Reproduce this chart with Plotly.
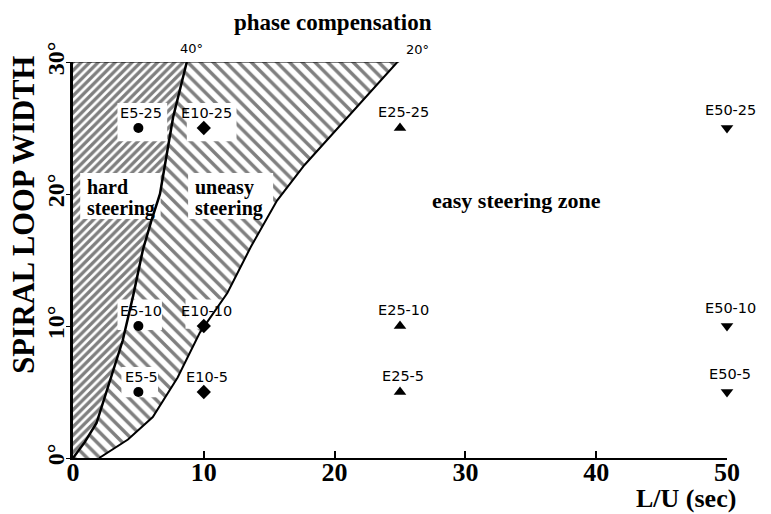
import plotly.graph_objects as go

# ---- data ----
curve40_x = [0.0, 0.9, 1.8, 2.8, 3.8, 4.6, 5.35, 6.0, 6.65, 7.65, 8.7]
curve40_y = [0.0, 1.2, 2.65, 5.7, 8.9, 12.3, 15.8, 18.0, 20.0, 25.8, 30.0]
curve20_x = [2.0, 4.2, 6.1, 8.0, 9.7, 11.8, 13.6, 15.6, 17.7, 19.9, 22.3, 24.8, 25.2]
curve20_y = [0.0, 1.4, 3.1, 6.1, 9.5, 12.5, 16.0, 19.5, 22.2, 24.6, 27.3, 30.0, 30.2]

circle_x = [5, 5, 5]
circle_y = [25, 10, 5]
circle_lbl = ["E5-25", "E5-10", "E5-5"]
diamond_x = [10, 10, 10]
diamond_y = [25, 10, 5]
diamond_lbl = ["E10-25", "E10-10", "E10-5"]
tri_up_x = [25, 25, 25]
tri_up_y = [25, 10, 5]
tri_up_lbl = ["E25-25", "E25-10", "E25-5"]
tri_dn_x = [50, 50, 50]
tri_dn_y = [25, 10, 5]
tri_dn_lbl = ["E50-25", "E50-10", "E50-5"]

x_ticks = [0, 10, 20, 30, 40, 50]
y_ticks = [0, 10, 20, 30]
y_ticktext = ["0°", "10°", "20°", "30°"]

SERIF = "Liberation Serif"
SANS = "DejaVu Sans"

fig = go.Figure()

# dense hatched region (hard steering): left of the 40° curve
dense_x = [0] + curve40_x + [0]
dense_y = [0] + curve40_y + [30]
fig.add_trace(go.Scatter(
    x=dense_x, y=dense_y, mode="lines", fill="toself",
    fillcolor="white", line=dict(color="black", width=0.1),
    fillpattern=dict(shape="/", size=6, solidity=0.55, fgcolor="black", bgcolor="white"),
    hoverinfo="skip", showlegend=False))

# lighter hatched region (uneasy steering): between 40° and 20° curves
light_x = curve40_x + [curve20_x[-2]] + curve20_x[-2::-1]
light_y = curve40_y + [curve20_y[-2]] + curve20_y[-2::-1]
fig.add_trace(go.Scatter(
    x=light_x, y=light_y, mode="lines", fill="toself",
    fillcolor="white", line=dict(color="black", width=0.1),
    fillpattern=dict(shape="\\", size=9, solidity=0.38, fgcolor="black", bgcolor="white"),
    hoverinfo="skip", showlegend=False))

# white label boxes cut into the hatching
boxes = [(3.4, 7.2, 24.0, 26.9), (8.7, 12.5, 24.0, 26.9),
         (3.4, 6.8, 9.7, 12.0), (3.7, 6.5, 4.6, 6.9), (8.6, 11.6, 9.8, 12.0),
         (0.55, 6.7, 18.1, 21.6), (8.8, 15.3, 18.1, 21.6)]
bx, by = [], []
for x0, x1, y0, y1 in boxes:
    bx += [x0, x1, x1, x0, x0, None]
    by += [y0, y0, y1, y1, y0, None]
fig.add_trace(go.Scatter(x=bx, y=by, mode="lines", fill="toself",
                         fillcolor="white", line=dict(width=0, color="white"),
                         hoverinfo="skip", showlegend=False))

# boundary lines
fig.add_trace(go.Scatter(x=curve40_x, y=curve40_y, mode="lines",
                         line=dict(color="black", width=2.5), showlegend=False, cliponaxis=False))
fig.add_trace(go.Scatter(x=curve20_x, y=curve20_y, mode="lines",
                         line=dict(color="black", width=2), showlegend=False, cliponaxis=False))
fig.add_trace(go.Scatter(x=[0, curve20_x[-2]], y=[30, 30], mode="lines",
                         line=dict(color="black", width=1.2), showlegend=False, cliponaxis=False))

# markers
for xs, ys, sym, sz in [(circle_x, circle_y, "circle", 10),
                        (diamond_x, diamond_y, "diamond", 11),
                        (tri_up_x, tri_up_y, "triangle-up", 11),
                        (tri_dn_x, tri_dn_y, "triangle-down", 11)]:
    fig.add_trace(go.Scatter(x=xs, y=ys, mode="markers",
                             marker=dict(symbol=sym, size=sz, color="black"),
                             cliponaxis=False, showlegend=False))

annotations = []
for xs, ys, lbls, dy in [(circle_x, circle_y, circle_lbl, 15), (diamond_x, diamond_y, diamond_lbl, 15),
                         (tri_up_x, tri_up_y, tri_up_lbl, 16), (tri_dn_x, tri_dn_y, tri_dn_lbl, 18)]:
    for x, y, t in zip(xs, ys, lbls):
        annotations.append(dict(x=x, y=y, text=t, showarrow=False, yshift=dy, xshift=3,
                                font=dict(family=SANS, size=14.5, color="black")))

bold19 = dict(family=SERIF, size=20, color="black", weight="bold")
annotations += [
    dict(x=curve40_x[-1], y=30, text="40°", showarrow=False, yshift=14, xshift=5,
         font=dict(family=SANS, size=13, color="black")),
    dict(x=curve20_x[-1], y=30, text="20°", showarrow=False, yshift=13, xshift=15,
         font=dict(family=SANS, size=13, color="black")),
    dict(x=0.9, y=20.5, text="hard", showarrow=False, xanchor="left", yanchor="middle", font=bold19),
    dict(x=0.9, y=18.9, text="steering", showarrow=False, xanchor="left", yanchor="middle", font=bold19),
    dict(x=9.2, y=20.5, text="uneasy", showarrow=False, xanchor="left", yanchor="middle", font=bold19),
    dict(x=9.2, y=18.9, text="steering", showarrow=False, xanchor="left", yanchor="middle", font=bold19),
    dict(x=33.9, y=19.5, text="easy steering zone", showarrow=False, xanchor="center",
         font=dict(family=SERIF, size=22, color="black", weight="bold")),
    dict(xref="paper", yref="paper", x=0.398, y=1.101, text="phase compensation",
         xanchor="center", yanchor="middle", showarrow=False,
         font=dict(family=SERIF, size=23, color="black", weight="bold")),
    dict(xref="paper", yref="paper", x=1.017, y=-0.102, xanchor="right", yanchor="middle",
         text="L/U (sec)", showarrow=False,
         font=dict(family=SERIF, size=26, color="black", weight="bold")),
    dict(xref="paper", yref="paper", x=-0.075, y=0.614, textangle=-90,
         xanchor="center", yanchor="middle",
         text="SPIRAL LOOP WIDTH", showarrow=False,
         font=dict(family=SERIF, size=30.5, color="black", weight="bold")),
]

# the page adds an 8px body margin, so margins are reduced by 8px on left/top
fig.update_layout(
    width=771, height=514,
    margin=dict(l=65, r=52, t=54, b=64, autoexpand=False),
    plot_bgcolor="white", paper_bgcolor="white",
    showlegend=False,
    annotations=annotations,
    xaxis=dict(range=[0, 50], tickvals=x_ticks, ticks="inside", ticklen=7,
               tickwidth=1.5, tickcolor="black", showgrid=False, zeroline=False,
               showline=True, linecolor="black", linewidth=2, automargin=False,
               ticklabelstandoff=-10,
               tickfont=dict(family=SERIF, size=26, color="black", weight="bold")),
    yaxis=dict(range=[0, 30], tickvals=y_ticks, ticktext=y_ticktext, tickangle=-90,
               ticks="outside", ticklen=4, tickcolor="black", showgrid=False, zeroline=False,
               showline=True, linecolor="black", linewidth=2.5, automargin=False,
               ticklabelstandoff=-7,
               tickfont=dict(family=SERIF, size=24, color="black", weight="bold")),
)

fig.write_html("out.html")
